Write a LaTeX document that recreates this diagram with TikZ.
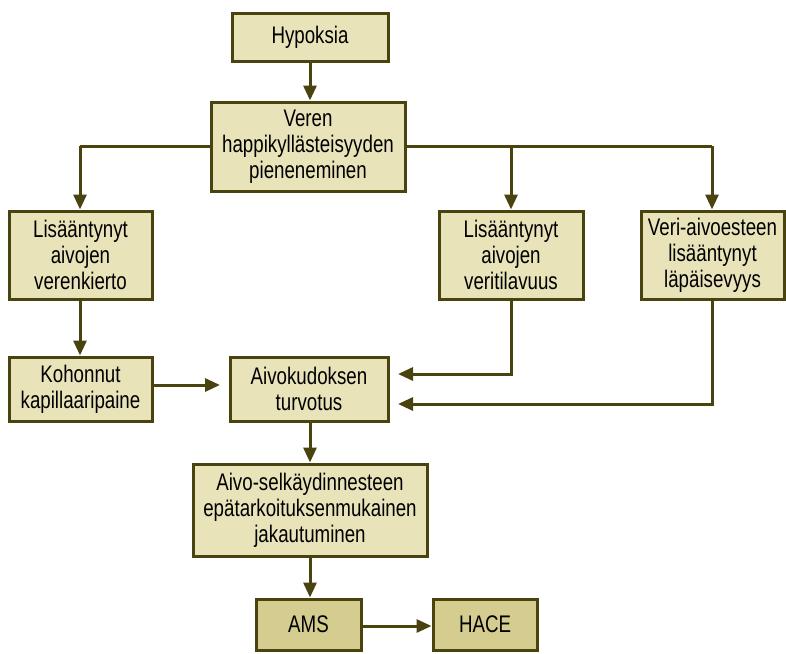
\documentclass[tikz,border=0pt]{standalone}
\usepackage{fontspec}
\setmainfont{Liberation Sans}[FakeStretch=0.78]
\usetikzlibrary{arrows.meta}
\definecolor{boxfill}{HTML}{E9E3BA}
\definecolor{boxfilldark}{HTML}{D4CD8F}
\definecolor{edge}{HTML}{48430F}
\tikzset{
  px/.style={x=1pt,y=-1pt},
  fbox/.style={draw=edge, line width=3pt, fill=boxfill, align=center, inner sep=0pt,
    font=\fontsize{24}{26}\selectfont, text=black},
  dbox/.style={fbox, fill=boxfilldark},
  conn/.style={draw=edge, line width=3pt, -{Triangle[length=15pt,width=13pt]}},
  plain/.style={draw=edge, line width=3pt}
}
\begin{document}
\begin{tikzpicture}[px]
\useasboundingbox (0,0) rectangle (786,653);
\node[fbox, minimum width=156pt, minimum height=48pt] (hyp) at (310,37) {Hypoksia};
\node[fbox, minimum width=194pt, minimum height=89pt] (ver) at (308,146.5) {Veren\\happikyllästeisyyden\\pieneneminen};
\node[fbox, minimum width=143pt, minimum height=88pt] (kie) at (80.5,255) {Lisääntynyt\\aivojen\\verenkierto};
\node[fbox, minimum width=144pt, minimum height=88pt] (til) at (511,255) {Lisääntynyt\\aivojen\\veritilavuus};
\node[fbox, minimum width=143pt, minimum height=88pt] (est) at (712.5,255) {Veri-aivoesteen\\lisääntynyt\\läpäisevyys};
\node[fbox, minimum width=143pt, minimum height=64pt] (koh) at (80.5,389) {Kohonnut\\kapillaaripaine};
\node[fbox, minimum width=158pt, minimum height=64pt] (tur) at (309,389) {Aivokudoksen\\turvotus};
\node[fbox, minimum width=234pt, minimum height=92pt] (csf) at (310,510) {Aivo-selkäydinnesteen\\epätarkoituksenmukainen\\jakautuminen};
\node[dbox, minimum width=105pt, minimum height=51pt] (ams) at (308.5,624.5) {AMS};
\node[dbox, minimum width=104pt, minimum height=51pt] (hace) at (485,624.5) {HACE};

\coordinate (tl) at (80,146);
\coordinate (tm) at (511,146);
\coordinate (tr) at (712,146);
\coordinate (turA) at (398,374);
\coordinate (turB) at (398,404);
\coordinate (kohE) at (220,385);

\draw[conn] (hyp.south -| 310,0) -- (ver.north -| 310,0);
\draw[plain] (ver.west |- tl) -- (tl);
\draw[conn] (tl) -- (kie.north -| tl);
\draw[plain] (ver.east |- tm) -- (tr);
\draw[conn] (tm) -- (til.north -| tm);
\draw[conn] (tr) -- (est.north -| tr);
\draw[conn] (kie.south -| 80,0) -- (koh.north -| 80,0);
\draw[conn] (koh.east |- kohE) -- (kohE);
\draw[conn] (til.south -| 511,0) -- (511,374) -- (turA);
\draw[conn] (est.south -| 712,0) -- (712,404) -- (turB);
\draw[conn] (tur.south -| 310,0) -- (csf.north -| 310,0);
\draw[conn] (csf.south -| 310,0) -- (ams.north -| 310,0);
\draw[conn] (ams.east |- 0,626) -- (hace.west |- 0,626);
\end{tikzpicture}
\end{document}
